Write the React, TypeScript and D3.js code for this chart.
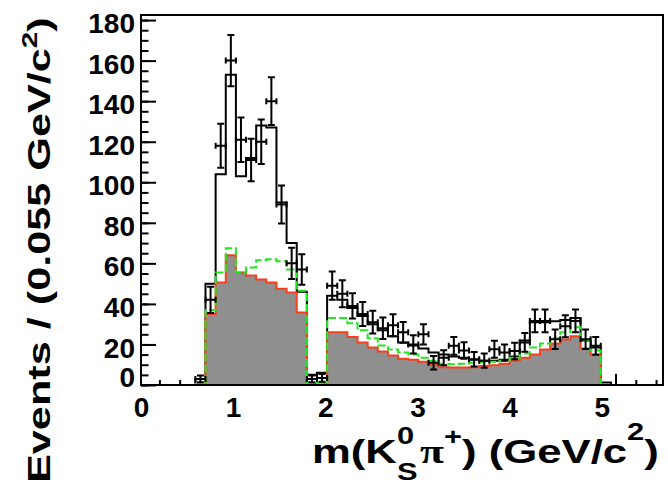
import React, { useEffect, useRef } from 'react';
import * as d3 from 'd3';

// binning of the histogram (GeV/c^2)
const binOrigin = 0.04;
const binWidth = 0.11;
const nBins = 51;
const firstBin = 5; // index of the first bin stored in the arrays below

// data points (bins 5..44)
const dataCounts = [3, 42, 118, 160, 121, 111, 120, 140, 89, 60, 57, 3, 3.5, 49, 45, 39, 35, 31, 28, 29.5,
  26, 20, 25, 11, 13.5, 19.3, 17, 12.7, 12, 17.6, 16, 16.8, 21, 31.6, 31.6, 22.6, 29, 31.6, 22.6, 19.3];
const dataErrors = [1.7, 6.5, 10.9, 12.6, 11, 10.5, 11, 11.8, 9.4, 7.7, 7.5, 1.7, 1.9, 7, 6.7, 6.2, 5.9, 5.6, 5.3, 5.4,
  5.1, 4.5, 5, 3.3, 3.7, 4.4, 4.1, 3.6, 3.5, 4.2, 4, 4.1, 4.6, 5.6, 5.6, 4.8, 5.4, 5.6, 4.8, 4.4];

// fit components (bins 5..45)
const totalFit = [3, 50, 104, 153, 103, 112, 128, 127, 90, 70, 46, 5, 6, 44, 42, 38, 34, 30, 27, 24,
  21, 19.5, 18, 16, 15, 14, 13.5, 12.5, 12, 12, 12.5, 14, 22, 31, 31, 31.5, 32, 33, 22, 18.5, 1.2];
const greenComp = [0.5, 37, 55.5, 67.5, 55.5, 58, 61.5, 62, 61, 57, 46.5, 1, 1, 33, 33, 30.5, 27, 23, 19.5, 17.5,
  16, 15, 13.5, 12, 10.5, 10.2, 10.5, 11, 11.2, 11.5, 12, 13.5, 15.5, 18.5, 20.5, 23, 26, 28.5, 22, 17, 0];
const redComp = [0.3, 35, 50.6, 64, 55.5, 54, 52, 50.6, 47.5, 45.6, 35.8, 0.8, 0.8, 26, 26, 23.7, 21, 18.5, 16.5, 14.5,
  13, 12.5, 11.5, 10, 8.8, 8.6, 8.6, 8.8, 9.4, 9.8, 10.5, 12, 13.5, 15, 17.5, 20.5, 22.5, 24, 18, 15, 0];

// empty bins showing only an upper error bar
const emptyBins = [1, 3, 46, 48, 50];
const emptyUpErr = [2.5, 2.5, 5.5, 2.5, 2.5];

const yMajorTicks = [0, 20, 40, 60, 80, 100, 120, 140, 160, 180];
const xTickValues = [0, 1, 2, 3, 4, 5];

const FONT = '"Liberation Sans", Arial, Helvetica, sans-serif';

const App = () => {
  const ref = useRef<SVGSVGElement>(null);

  useEffect(() => {
    const svg = d3.select(ref.current);
    svg.selectAll('*').remove();

    const left = 141, right = 663, top = 15, bottom = 385;
    const x = d3.scaleLinear().domain([0, 5.665]).range([left, right]);
    const y = d3.scaleLinear().domain([0, 182.5]).range([bottom, top]);

    const edge = (k: number) => binOrigin + k * binWidth;
    const binValue = (arr: number[], k: number) =>
      k >= firstBin && k < firstBin + arr.length ? arr[k - firstBin] : 0;

    const stepPoints = (arr: number[]) => {
      const pts: [number, number][] = [[0, 0]];
      for (let k = 0; k < nBins; k++) pts.push([edge(k), binValue(arr, k)]);
      pts.push([edge(nBins), 0]);
      pts.push([5.665, 0]);
      return pts;
    };

    const line = d3.line<[number, number]>()
      .x(d => x(d[0]))
      .y(d => y(d[1]))
      .curve(d3.curveStepAfter);
    const area = d3.area<[number, number]>()
      .x(d => x(d[0]))
      .y0(y(0))
      .y1(d => y(d[1]))
      .curve(d3.curveStepAfter);

    svg.append('clipPath').attr('id', 'frame-clip')
      .append('rect')
      .attr('x', left).attr('y', top)
      .attr('width', right - left).attr('height', bottom - top);

    const plot = svg.append('g').attr('clip-path', 'url(#frame-clip)');

    // total fit (black)
    plot.append('path')
      .attr('d', line(stepPoints(totalFit)))
      .attr('fill', 'none').attr('stroke', '#000').attr('stroke-width', 2);

    // background component: gray fill with red outline
    plot.append('path')
      .attr('d', area(stepPoints(redComp)))
      .attr('fill', '#8f8f8f');
    plot.append('path')
      .attr('d', line(stepPoints(redComp)))
      .attr('fill', 'none').attr('stroke', '#f5401f').attr('stroke-width', 2);

    // green dashed component
    plot.append('path')
      .attr('d', line(stepPoints(greenComp)))
      .attr('fill', 'none').attr('stroke', '#22e822').attr('stroke-width', 2)
      .attr('stroke-dasharray', '8,3');

    // data points with error bars
    const crossPath = (v: number, e: number, k: number) => {
      const x0 = x(edge(k)), x1 = x(edge(k + 1)), xc = (x0 + x1) / 2;
      const yc = y(v), yt = y(v + e), yb = y(Math.max(0, v - e));
      return `M${x0},${yc}H${x1}M${xc},${yt}V${yb}` +
        `M${xc - 3.5},${yt}H${xc + 3.5}M${xc - 3.5},${yb}H${xc + 3.5}` +
        `M${x0},${yc - 3}V${yc + 3}M${x1},${yc - 3}V${yc + 3}`;
    };
    plot.append('g')
      .selectAll('path')
      .data(dataCounts)
      .enter().append('path')
      .attr('d', (v, i) => crossPath(v, dataErrors[i], firstBin + i))
      .attr('fill', 'none').attr('stroke', '#000').attr('stroke-width', 2);

    plot.append('g')
      .selectAll('line')
      .data(emptyBins)
      .enter().append('line')
      .attr('x1', k => x(edge(k) + binWidth / 2))
      .attr('x2', k => x(edge(k) + binWidth / 2))
      .attr('y1', y(0))
      .attr('y2', (k, i) => y(emptyUpErr[i]))
      .attr('stroke', '#000').attr('stroke-width', 2);

    // frame
    svg.append('rect')
      .attr('x', left).attr('y', top)
      .attr('width', right - left).attr('height', bottom - top)
      .attr('fill', 'none').attr('stroke', '#000').attr('stroke-width', 2);

    // y axis: major and minor ticks drawn inside the frame
    const yMinor = d3.range(0, 182.5, 5);
    svg.append('g')
      .attr('transform', `translate(${left},0)`)
      .call(d3.axisLeft(y).tickValues(yMinor).tickSizeInner(-7.5).tickSizeOuter(0).tickFormat(() => ''))
      .call(g => g.select('.domain').remove())
      .call(g => g.selectAll('line').attr('stroke-width', 2));

    const yAxis = svg.append('g')
      .attr('transform', `translate(${left},0)`)
      .call(d3.axisLeft(y).tickValues(yMajorTicks).tickSizeInner(-15).tickSizeOuter(0).tickPadding(6))
      .call(g => g.select('.domain').remove())
      .call(g => g.selectAll('line').attr('stroke-width', 2));
    yAxis.selectAll('text')
      .attr('font-family', FONT).attr('font-size', 28).attr('font-weight', 'bold').attr('fill', '#000')
      .attr('dy', (d: any) => (d === 0 ? '0.05em' : '0.45em'));

    const xAxis = svg.append('g')
      .attr('transform', `translate(0,${bottom})`)
      .call(d3.axisBottom(x).tickValues(xTickValues).tickSizeInner(0).tickSizeOuter(0).tickPadding(12).tickFormat(d3.format('d')))
      .call(g => g.select('.domain').remove());
    xAxis.selectAll('text')
      .attr('font-family', FONT).attr('font-size', 28).attr('font-weight', 'bold').attr('fill', '#000');

    // x title
    const xt = svg.append('text')
      .attr('font-family', FONT).attr('font-size', 34).attr('font-weight', 'bold').attr('fill', '#000');
    xt.append('tspan').text('m(K');
    xt.append('tspan').attr('font-size', 24).attr('dy', -19).text('0');
    xt.append('tspan').attr('font-size', 24).attr('dx', -13.3).attr('dy', 36).text('S');
    xt.append('tspan').attr('dy', -17).attr('dx', 2).attr('font-family', '"Liberation Serif", serif').text('π');
    xt.append('tspan').attr('font-size', 24).attr('dy', -18).text('+');
    xt.append('tspan').attr('dy', 18).text(') (GeV/c');
    xt.append('tspan').attr('font-size', 24).attr('dy', -23).text('2');
    xt.append('tspan').attr('dy', 23).text(')');
    const xw = (xt.node() as SVGTextElement).getBBox().width;
    xt.attr('transform', `translate(312,463) scale(${347 / xw},1)`);

    // y title
    const yt = svg.append('text')
      .attr('font-family', FONT).attr('font-size', 32).attr('font-weight', 'bold').attr('fill', '#000');
    yt.append('tspan').text('Events / (0.055 GeV/c');
    yt.append('tspan').attr('font-size', 22).attr('dy', -13).text('2');
    yt.append('tspan').attr('dy', 13).text(')');
    const yw = (yt.node() as SVGTextElement).getBBox().width;
    yt.attr('transform', `translate(50,483) rotate(-90) scale(${466 / yw},1)`);
  }, []);

  return (
    <svg ref={ref} width={668} height={486}
      style={{ position: 'absolute', left: 0, top: 0, background: '#fff' }} />
  );
};

export default App;
